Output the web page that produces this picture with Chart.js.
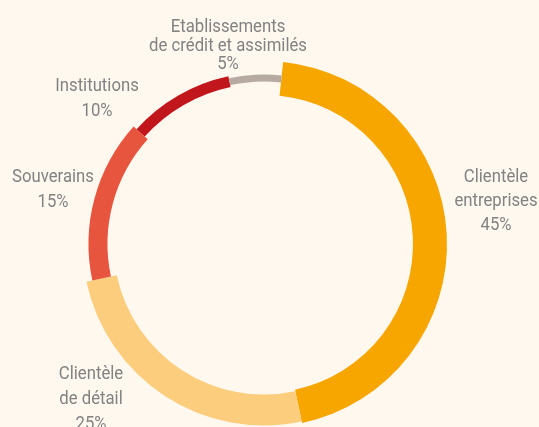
<!DOCTYPE html>
<html>
<head>
<meta charset="utf-8">
<script src="https://cdn.jsdelivr.net/npm/chart.js@4"></script>
<style>
  html, body { margin: 0; padding: 0; background: #fef8ef; }
  #wrap { width: 539px; height: 427px; position: relative; }
</style>
</head>
<body>
<div id="wrap"><canvas id="ringChart"></canvas></div>
<script>
// categories and shares (%)
const categories = ['Clientèle entreprises', 'Clientèle de détail', 'Souverains', 'Institutions', 'Etablissements de crédit et assimilés'];
const shares = [45, 25, 15, 10, 5];
const labelLines = [
    ['Clientèle', 'entreprises'],
    ['Clientèle', 'de détail'],
    ['Souverains'],
    ['Institutions'],
    ['Etablissements', 'de crédit et assimilés']
];

// styling
const colors = ['#f7a600', '#fdcd7e', '#e8553f', '#c1161b', '#b6aaa1'];
const thickness = [34, 31, 19, 11, 7];
const labelPlace = [
    { x: 496, y: 182, gap: 24 },
    { x: 91, y: 379, gap: 25 },
    { x: 53, y: 182, gap: 25 },
    { x: 97, y: 91, gap: 25 },
    { x: 228, y: 32, gap: 18.5 }
];

// each slice gets its own ring width, centred on a common mid radius
const ringWidths = {
    id: 'ringWidths',
    afterDatasetsUpdate(chart) {
        const arcs = chart.getDatasetMeta(0).data;
        const maxT = Math.max.apply(null, thickness);
        arcs.forEach(function(arc, i) {
            const mid = arc.outerRadius - maxT / 2;
            arc.innerRadius = mid - thickness[i] / 2;
            arc.outerRadius = mid + thickness[i] / 2;
        });
    }
};

const sliceLabels = {
    id: 'sliceLabels',
    afterDraw(chart) {
        const ctx = chart.ctx;
        ctx.save();
        ctx.fillStyle = '#828282';
        ctx.font = '400 19px Roboto';
        ctx.textAlign = 'center';
        ctx.textBaseline = 'alphabetic';
        const squeeze = 0.88;
        labelPlace.forEach(function(p, i) {
            const lines = labelLines[i].concat([shares[i] + '%']);
            lines.forEach(function(txt, k) {
                ctx.save();
                ctx.translate(p.x, p.y + k * p.gap);
                ctx.scale(squeeze, 1);
                ctx.fillText(txt, 0, 0);
                ctx.restore();
            });
        });
        ctx.restore();
    }
};

new Chart(document.getElementById('ringChart'), {
    type: 'doughnut',
    data: {
        labels: categories,
        datasets: [{
            data: shares,
            backgroundColor: colors,
            borderWidth: 0
        }]
    },
    options: {
        responsive: true,
        maintainAspectRatio: false,
        animation: false,
        rotation: 6,
        cutout: '80%',
        layout: { padding: { top: 61, bottom: -2, left: 80, right: 91 } },
        plugins: {
            legend: { display: false },
            tooltip: { enabled: false }
        }
    },
    plugins: [ringWidths, sliceLabels]
});
</script>
</body>
</html>
